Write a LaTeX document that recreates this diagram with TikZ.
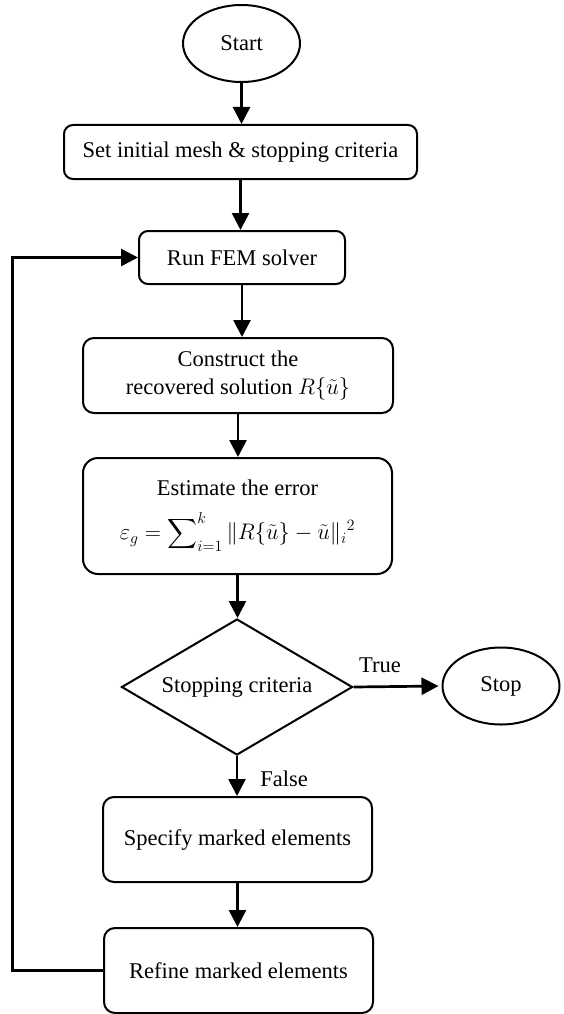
\RequirePackage{fix-cm}
\documentclass[tikz,border=0pt]{standalone}
\usepackage{amsmath}
\usepackage{fontspec}
\setmainfont{Liberation Serif}
\usetikzlibrary{shapes.geometric,arrows.meta}
\begin{document}
\begin{tikzpicture}[x=1pt,y=-1pt,
  base/.style={draw, line width=2pt, font=\fontsize{22.5}{28}\selectfont,
               align=center, inner sep=0pt},
  proc/.style={base, rounded corners=9pt},
  term/.style={base, ellipse, minimum width=117pt, minimum height=77pt},
  decide/.style={base, diamond, aspect=1.7, minimum width=231pt, minimum height=136pt},
  flow/.style={line width=2.7pt, -{Triangle[length=17pt,width=17pt]}},
  lbl/.style={font=\fontsize{22.5}{27}\selectfont, inner sep=0pt}]
\useasboundingbox (0,0) rectangle (563,1014);

% process steps
\node[term] (start) at (241.5,43.5) {Start};
\node[proc, minimum width=353pt, minimum height=54pt] (init) at (240.5,152)
  {Set initial mesh \& stopping criteria};
\node[proc, minimum width=206pt, minimum height=53pt] (run) at (242,257.5)
  {Run FEM solver};
\node[proc, rounded corners=11pt, minimum width=310pt, minimum height=75pt] (rec) at (238,375.5)
  {Construct the\\recovered solution $R\{\tilde{u}\}$};
\node[proc, rounded corners=15pt, minimum width=309pt, minimum height=116pt] (est) at (237.5,516)
  {Estimate the error\\[16pt]
   $\varepsilon_g=\displaystyle\sum\nolimits_{i=1}^{k}\|R\{\tilde{u}\}-\tilde{u}\|_i{}^2$};
\node[decide] (crit) at (237,687) {Stopping criteria};
\node[term] (stop) at (501,686) {Stop};
\node[proc, rounded corners=11pt, minimum width=269pt, minimum height=85pt] (mark) at (237.5,839.5)
  {Specify marked elements};
\node[proc, rounded corners=11pt, minimum width=269pt, minimum height=85pt] (refine) at (238.5,970.5)
  {Refine marked elements};

% loop-back corners
\coordinate (loopB) at (12.7,970.5);
\coordinate (loopT) at (12.7,257.5);

% connectors
\draw[flow] (start.south) -- (start.south |- init.north);
\draw[flow] (init.south) -- (init.south |- run.north);
\draw[flow] (run.south) -- (run.south |- rec.north);
\draw[flow] (rec.south) -- (rec.south |- est.north);
\draw[flow] (est.south) -- (est.south |- crit.north);
\draw[flow, shorten >=3pt] (crit.east) -- (stop.west)
  node[lbl, pos=0.3, above=13pt] {True};
\draw[flow] (crit.south) -- (crit.south |- mark.north)
  node[lbl, midway, right=22pt, yshift=-3pt] {False};
\draw[flow] (mark.south) -- (mark.south |- refine.north);
\draw[flow] (refine.west) -- (loopB) -- (loopT) -- (run.west);
\end{tikzpicture}
\end{document}
